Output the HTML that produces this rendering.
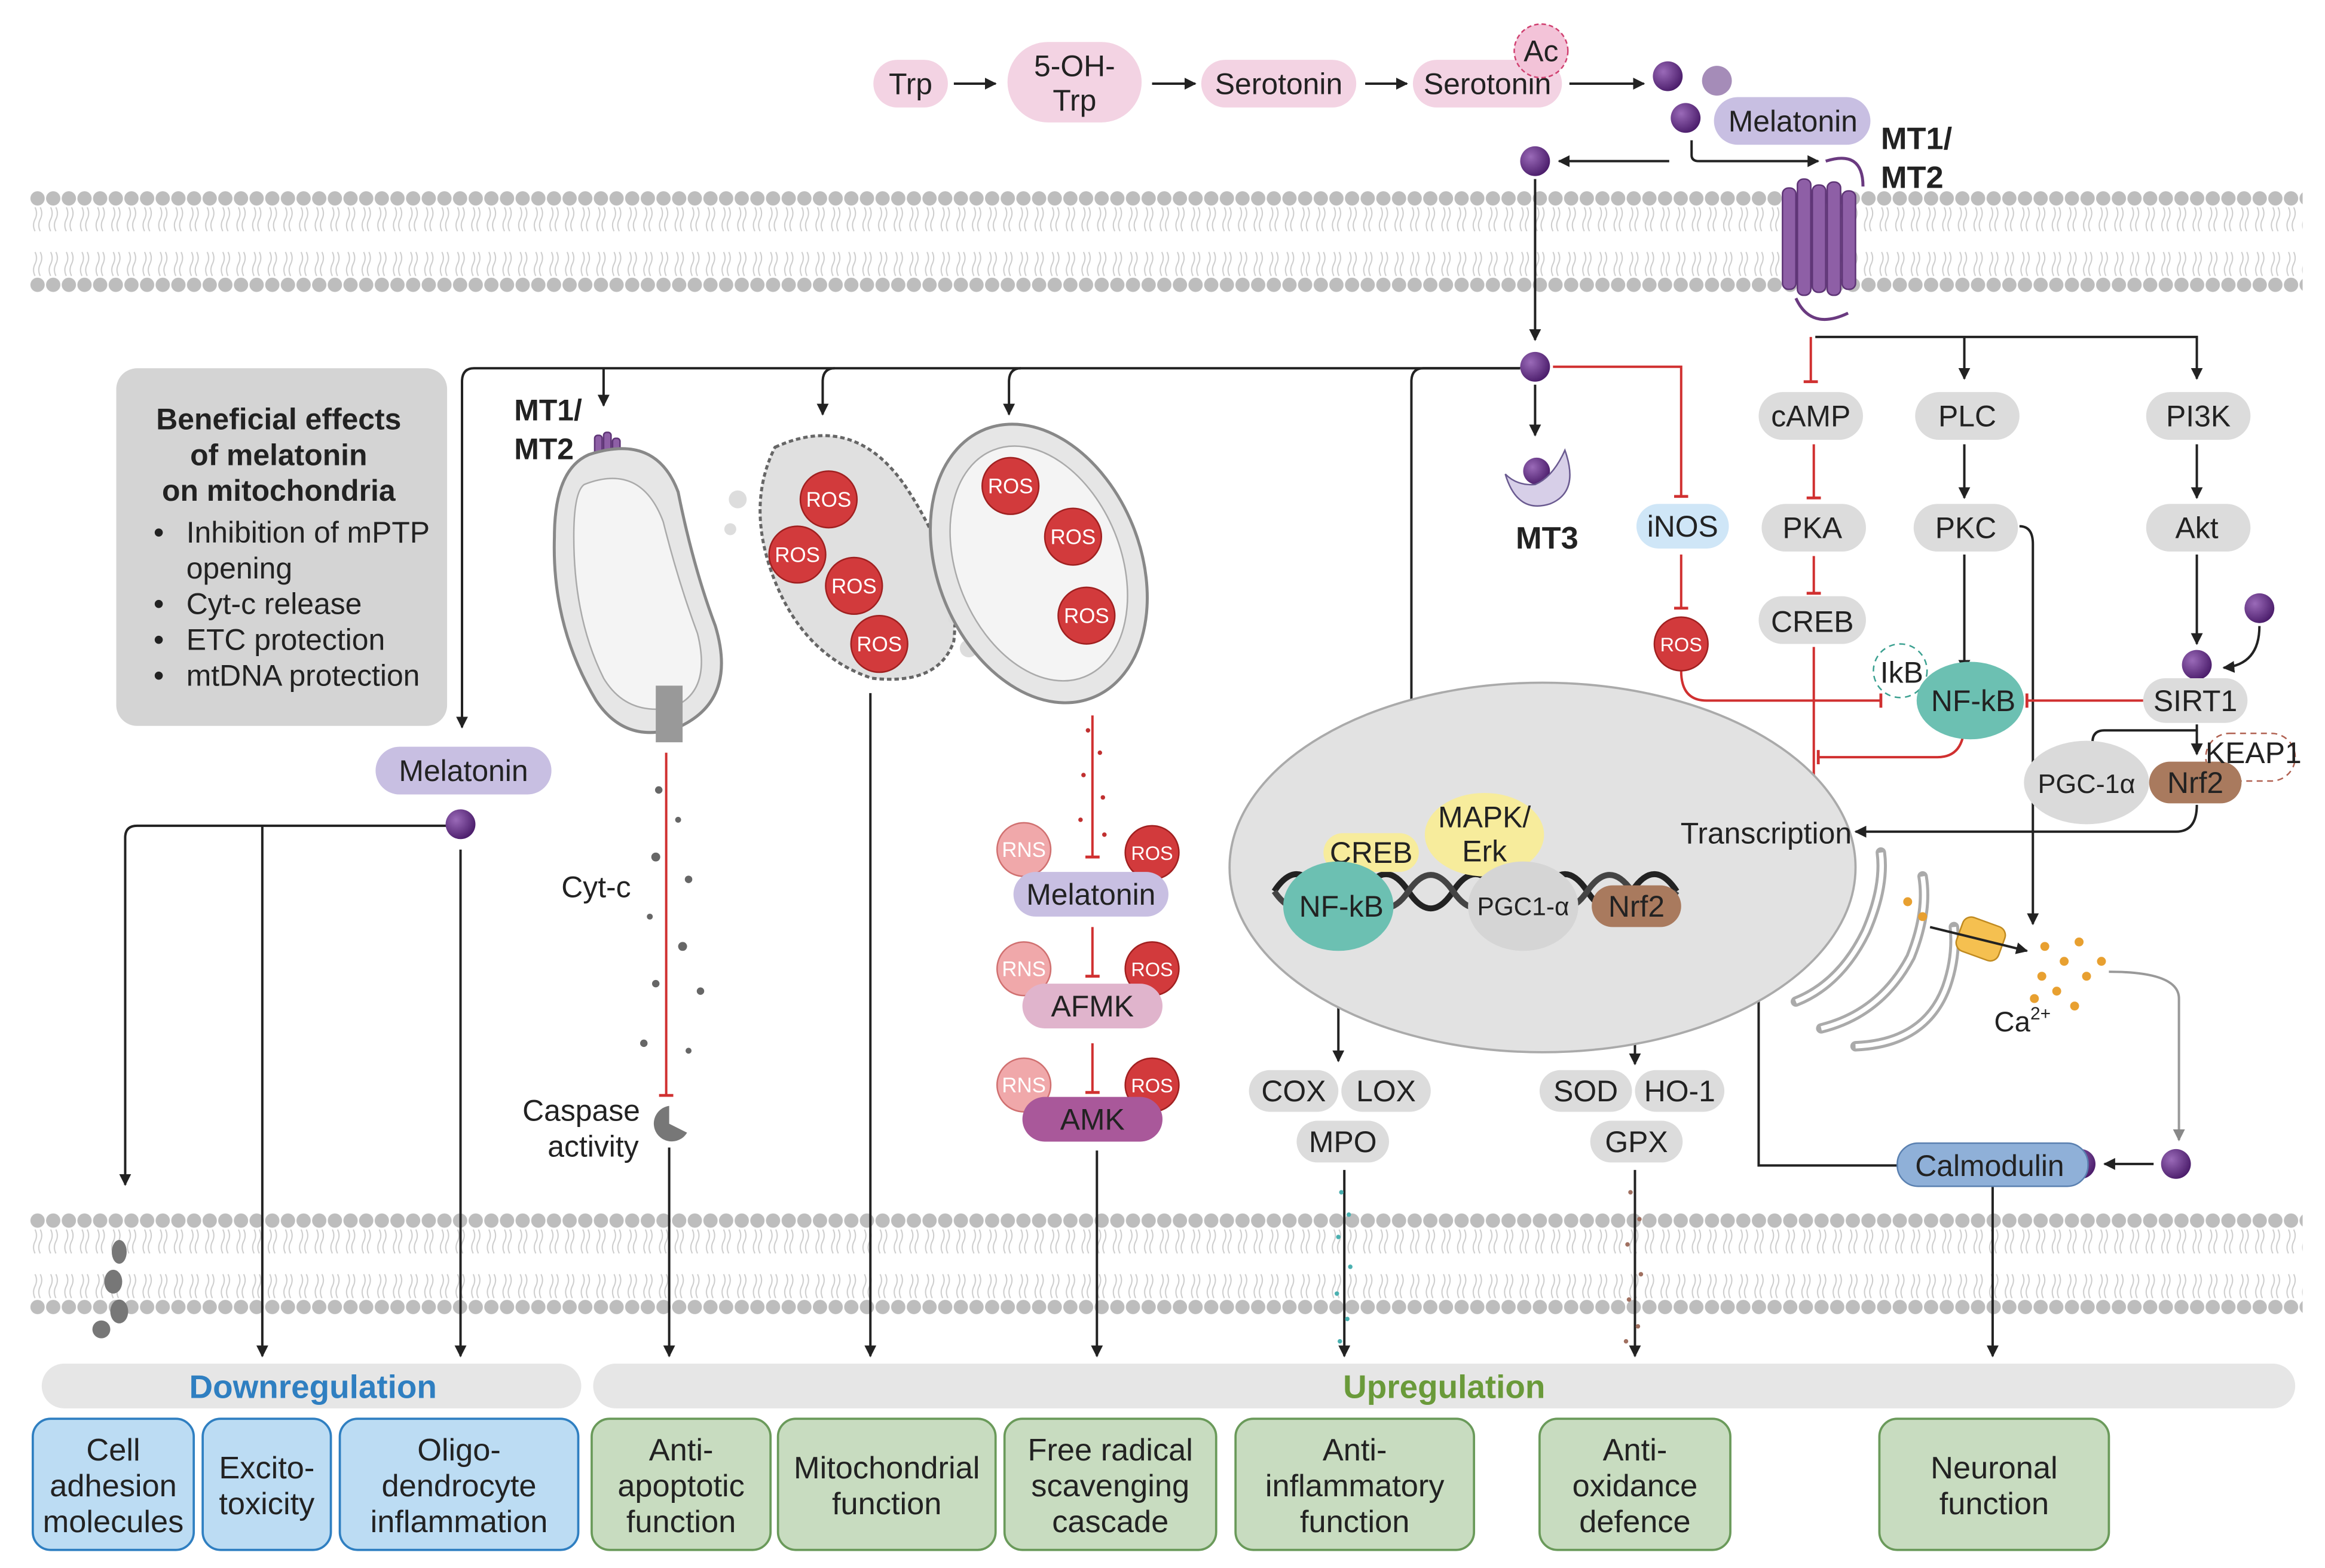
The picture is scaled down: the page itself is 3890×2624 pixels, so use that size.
<!DOCTYPE html>
<html><head><meta charset="utf-8">
<style>html,body{margin:0;padding:0;background:#fff}svg{display:block}
text{font-family:"Liberation Sans",sans-serif;fill:#222}</style></head>
<body>
<svg width="3890" height="2624" viewBox="0 0 1560 1052" xmlns="http://www.w3.org/2000/svg">
<defs>
<marker id="a" viewBox="0 0 10 10" refX="9" refY="5" markerWidth="5" markerHeight="5" orient="auto"><path d="M0,0L10,5L0,10z" fill="#222"/></marker>
<marker id="ag" viewBox="0 0 10 10" refX="9" refY="5" markerWidth="5" markerHeight="5" orient="auto"><path d="M0,0L10,5L0,10z" fill="#888"/></marker>
<marker id="t" viewBox="0 0 10 10" refX="5" refY="5" markerWidth="6" markerHeight="6" orient="auto"><path d="M5,0V10" stroke="#d03030" stroke-width="2"/></marker>
<pattern id="mem" x="20" y="126" width="10.5" height="72" patternUnits="userSpaceOnUse">
<path d="M3.5,13q2,4 0,8q-2,4 0,8M7,13q2,4 0,8q-2,4 0,8M3.5,43q2,4 0,8q-2,4 0,8M7,43q2,4 0,8q-2,4 0,8" stroke="#ccc" stroke-width="0.8" fill="none"/>
<circle cx="5.2" cy="7" r="4.8" fill="#bdbdbd"/><circle cx="5.2" cy="65" r="4.8" fill="#bdbdbd"/></pattern>
<pattern id="mem2" x="20" y="812" width="10.5" height="72" patternUnits="userSpaceOnUse">
<path d="M3.5,13q2,4 0,8q-2,4 0,8M7,13q2,4 0,8q-2,4 0,8M3.5,43q2,4 0,8q-2,4 0,8M7,43q2,4 0,8q-2,4 0,8" stroke="#ccc" stroke-width="0.8" fill="none"/>
<circle cx="5.2" cy="7" r="4.8" fill="#bdbdbd"/><circle cx="5.2" cy="65" r="4.8" fill="#bdbdbd"/></pattern>
<radialGradient id="dot" cx="0.35" cy="0.35" r="0.7"><stop offset="0" stop-color="#9a6ab8"/><stop offset="1" stop-color="#4a1c6a"/></radialGradient>
</defs>
<rect x="20" y="126" width="1525" height="72" fill="url(#mem)"/>
<rect x="20" y="812" width="1525" height="72" fill="url(#mem2)"/>

<!-- top pathway -->
<g font-size="20" text-anchor="middle">
<rect x="586" y="40" width="50" height="32" rx="16" fill="#f3d3e3"/><text x="611" y="63">Trp</text>
<rect x="676" y="28" width="90" height="54" rx="27" fill="#f3d3e3"/><text x="721" y="51">5-OH-</text><text x="721" y="74">Trp</text>
<rect x="806" y="40" width="104" height="32" rx="16" fill="#f3d3e3"/><text x="858" y="63">Serotonin</text>
<rect x="948" y="40" width="100" height="32" rx="16" fill="#f3d3e3"/><text x="998" y="63">Serotonin</text>
<circle cx="1034" cy="34" r="18" fill="#f3c3d8" stroke="#d04070" stroke-dasharray="3,2"/><text x="1034" y="41">Ac</text>
<rect x="1150" y="65" width="105" height="32" rx="16" fill="#c8bfe2"/><text x="1203" y="88">Melatonin</text>
</g>
<g stroke="#222" stroke-width="1.6" fill="none" marker-end="url(#a)">
<path d="M640,56H668"/><path d="M773,56H802"/><path d="M916,56H944"/><path d="M1053,56H1103"/>
<path d="M1120,108H1046"/><path d="M1135,94V104Q1135,108 1140,108H1220"/>
<path d="M1030,120V228"/><path d="M1030,258V292"/>
<path d="M1020,247H318Q310,247 310,256V488"/>
<path d="M405,247Q405,250 405,272"/><path d="M560,247Q552,247 552,256V278"/><path d="M685,247Q677,247 677,256V278"/>
<path d="M1020,247H955Q947,247 947,256V482"/>
<path d="M1218,226H1474V254"/><path d="M1318,226V254"/>
<path d="M1318,298V334"/><path d="M1318,372V450"/><path d="M1474,298V334"/><path d="M1474,372V432"/>
<path d="M1516,420Q1516,446 1492,448"/>
<path d="M1355,353Q1364,353 1364,365V620"/>
<path d="M1474,486V506"/><path d="M1474,490H1412Q1404,490 1404,498V508"/>
<path d="M1474,540Q1474,558 1460,558H1245"/>
<path d="M1090,572V560H1118"/>
<path d="M1273,782H1180V574"/>
<path d="M1445,781H1412"/>
<path d="M1337,796V910"/>
<path d="M449,770V910"/><path d="M584,465V910"/><path d="M736,772V910"/>
<path d="M300,554H92Q84,554 84,562V795"/><path d="M176,554V910"/><path d="M309,570V910"/>
<path d="M898,636V712"/><path d="M1097,624V714"/><path d="M902,785V910"/><path d="M1097,785V910"/>
</g>
<path d="M1415,652Q1462,652 1462,670V765" stroke="#999" stroke-width="1.6" fill="none" marker-end="url(#ag)"/>
<g stroke="#d03030" stroke-width="1.6" fill="none" marker-end="url(#t)">
<path d="M1042,246H1128V333"/><path d="M1128,372V408"/>
<path d="M1215,226V256"/><path d="M1217,298V334"/><path d="M1217,373V398"/><path d="M1217,434V540"/>
<path d="M1438,470H1360"/><path d="M1128,450Q1128,470 1145,470H1262"/>
<path d="M1318,485Q1318,508 1300,508H1220"/>
<path d="M447,505V735"/><path d="M733,480V575"/><path d="M733,622V655"/><path d="M733,700V733"/>
</g>

<!-- dots -->
<g fill="url(#dot)">
<circle cx="1119" cy="51" r="10"/><circle cx="1131" cy="79" r="10"/><circle cx="1030" cy="108" r="10"/>
<circle cx="1030" cy="246" r="10"/><circle cx="1474" cy="446" r="10"/><circle cx="1516" cy="408" r="10"/>
<circle cx="309" cy="553" r="10"/><circle cx="1396" cy="781" r="10"/><circle cx="1460" cy="781" r="10"/>
<circle cx="1031" cy="316" r="9"/><circle cx="945" cy="499" r="9"/>
</g>
<circle cx="1152" cy="54" r="10" fill="#a58cb8"/>

<!-- receptors -->
<g fill="#8e5fa6" stroke="#5e3476">
<rect x="1196" y="126" width="9" height="68" rx="4"/><rect x="1206" y="120" width="9" height="78" rx="4"/><rect x="1216" y="124" width="9" height="72" rx="4"/><rect x="1226" y="122" width="9" height="76" rx="4"/><rect x="1236" y="128" width="9" height="66" rx="4"/>
<rect x="399" y="292" width="5" height="36" rx="2"/><rect x="405" y="290" width="5" height="40" rx="2"/><rect x="411" y="294" width="5" height="34" rx="2"/>
</g>
<path d="M1225,108Q1250,100 1250,125M1205,200Q1215,222 1240,210" stroke="#6a3a80" stroke-width="2" fill="none"/>
<text x="1262" y="100" font-size="21" font-weight="bold">MT1/</text><text x="1262" y="126" font-size="21" font-weight="bold">MT2</text>
<path d="M1010,318Q1018,345 1040,338Q1060,330 1050,302Q1042,320 1030,325Q1018,326 1010,318z" fill="#d7cfe8" stroke="#6a5a90"/>
<text x="1038" y="368" font-size="21" font-weight="bold" text-anchor="middle">MT3</text>
<path d="M924,505Q930,530 950,526Q972,520 968,490Q962,512 948,514Q934,516 924,505z" fill="#d7cfe8" stroke="#6a5a90"/>
<text x="977" y="490" font-size="20" font-weight="bold">ROR/</text><text x="977" y="514" font-size="20" font-weight="bold">RZR</text>

<!-- right pills -->
<g font-size="20" text-anchor="middle">
<rect x="1180" y="263" width="70" height="32" rx="16" fill="#dcdcdc"/><text x="1215" y="286">cAMP</text>
<rect x="1285" y="263" width="70" height="32" rx="16" fill="#dcdcdc"/><text x="1320" y="286">PLC</text>
<rect x="1440" y="263" width="70" height="32" rx="16" fill="#dcdcdc"/><text x="1475" y="286">PI3K</text>
<rect x="1182" y="338" width="70" height="32" rx="16" fill="#dcdcdc"/><text x="1216" y="361">PKA</text>
<rect x="1284" y="338" width="70" height="32" rx="16" fill="#dcdcdc"/><text x="1319" y="361">PKC</text>
<rect x="1440" y="338" width="70" height="32" rx="16" fill="#dcdcdc"/><text x="1474" y="361">Akt</text>
<rect x="1180" y="400" width="72" height="32" rx="16" fill="#dcdcdc"/><text x="1216" y="424">CREB</text>
<rect x="1098" y="338" width="62" height="30" rx="15" fill="#cfe6f7"/><text x="1129" y="360">iNOS</text>
<rect x="1438" y="455" width="70" height="30" rx="15" fill="#dcdcdc"/><text x="1473" y="477">SIRT1</text>
<circle cx="1275" cy="450" r="18" fill="none" stroke="#3aa090" stroke-dasharray="4,3"/><text x="1276" y="458">IkB</text>
<ellipse cx="1322" cy="470" rx="36" ry="26" fill="#6cc0b2"/><text x="1324" y="477">NF-kB</text>
<ellipse cx="1400" cy="525" rx="42" ry="28" fill="#dadada"/><text x="1400" y="532" font-size="18">PGC-1α</text>
<rect x="1480" y="492" width="60" height="32" rx="16" fill="none" stroke="#b06050" stroke-dasharray="4,3"/>
<rect x="1442" y="511" width="62" height="28" rx="14" fill="#a97a5e"/><text x="1473" y="532">Nrf2</text>
<text x="1512" y="512">KEAP1</text>
<circle cx="1128" cy="432" r="18" fill="#d23a3c" stroke="#a02020"/><text x="1128" y="437" font-size="13" style="fill:#fff">ROS</text>
</g>

<!-- ER (behind nucleus) -->
<g stroke="#aaa" stroke-width="7" fill="none" stroke-linecap="round">
<path d="M1205,672Q1235,660 1252,625Q1265,595 1262,572"/>
<path d="M1222,690Q1262,680 1282,642Q1294,612 1290,588"/>
<path d="M1245,702Q1292,700 1306,662Q1313,642 1311,622"/>
</g>
<g stroke="#fff" stroke-width="3" fill="none"><path d="M1205,672Q1235,660 1252,625Q1265,595 1262,572"/><path d="M1222,690Q1262,680 1282,642Q1294,612 1290,588"/><path d="M1245,702Q1292,700 1306,662Q1313,642 1311,622"/></g>

<!-- nucleus -->
<ellipse cx="1035" cy="582" rx="210" ry="124" fill="#e2e2e2" stroke="#aaa" stroke-width="1.5"/>
<path d="M855,598Q870,575 885,598T915,598T945,598T975,598T1005,598T1035,598T1065,598T1095,598T1125,598" stroke="#222" stroke-width="4" fill="none"/>
<path d="M855,598Q870,620 885,598T915,598T945,598T975,598T1005,598T1035,598T1065,598T1095,598T1125,598" stroke="#444" stroke-width="4" fill="none"/>
<g font-size="20" text-anchor="middle">
<rect x="888" y="559" width="64" height="26" rx="13" fill="#f7ec9c"/><text x="920" y="579">CREB</text>
<ellipse cx="996" cy="560" rx="40" ry="28" fill="#f7ec9c"/><text x="996" y="555">MAPK/</text><text x="996" y="578">Erk</text>
<ellipse cx="898" cy="608" rx="37" ry="30" fill="#6cc0b2"/><text x="900" y="615">NF-kB</text>
<ellipse cx="1022" cy="608" rx="37" ry="30" fill="#d5d5d5"/><text x="1022" y="614" font-size="17">PGC1-α</text>
<rect x="1068" y="594" width="60" height="28" rx="14" fill="#a97a5e"/><text x="1098" y="615">Nrf2</text>
<text x="1185" y="566">Transcription</text>
<rect x="838" y="718" width="60" height="28" rx="14" fill="#dcdcdc"/><text x="868" y="739">COX</text>
<rect x="900" y="718" width="60" height="28" rx="14" fill="#dcdcdc"/><text x="930" y="739">LOX</text>
<rect x="870" y="752" width="62" height="28" rx="14" fill="#dcdcdc"/><text x="901" y="773">MPO</text>
<rect x="1033" y="718" width="62" height="28" rx="14" fill="#dcdcdc"/><text x="1064" y="739">SOD</text>
<rect x="1097" y="718" width="60" height="28" rx="14" fill="#dcdcdc"/><text x="1127" y="739">HO-1</text>
<rect x="1067" y="752" width="62" height="28" rx="14" fill="#dcdcdc"/><text x="1098" y="773">GPX</text>
<rect x="1273" y="767" width="128" height="29" rx="14" fill="#8fb0d8" stroke="#5a80b0"/><text x="1335" y="789">Calmodulin</text>
</g>
<g fill="#4ab0b0"><circle cx="900" cy="800" r="1.5"/><circle cx="905" cy="815" r="1.5"/><circle cx="898" cy="830" r="1.5"/><circle cx="906" cy="850" r="1.5"/><circle cx="897" cy="868" r="1.5"/><circle cx="904" cy="885" r="1.5"/><circle cx="899" cy="900" r="1.5"/></g>
<g fill="#a07060"><circle cx="1094" cy="800" r="1.5"/><circle cx="1100" cy="818" r="1.5"/><circle cx="1092" cy="835" r="1.5"/><circle cx="1101" cy="855" r="1.5"/><circle cx="1093" cy="872" r="1.5"/><circle cx="1099" cy="890" r="1.5"/><circle cx="1091" cy="900" r="1.5"/></g>

<rect x="1314" y="618" width="30" height="24" rx="6" fill="#f5c050" stroke="#c08a20" transform="rotate(20 1329 630)"/>
<path d="M1295,622L1360,638" stroke="#222" stroke-width="1.6" marker-end="url(#a)"/>
<g fill="#e8a030"><circle cx="1280" cy="605" r="3"/><circle cx="1290" cy="615" r="3"/><circle cx="1372" cy="635" r="3"/><circle cx="1385" cy="645" r="3"/><circle cx="1370" cy="655" r="3"/><circle cx="1395" cy="632" r="3"/><circle cx="1400" cy="655" r="3"/><circle cx="1380" cy="665" r="3"/><circle cx="1410" cy="645" r="3"/><circle cx="1392" cy="675" r="3"/><circle cx="1365" cy="670" r="3"/></g>
<text x="1338" y="692" font-size="19">Ca<tspan font-size="12" dy="-8">2+</tspan></text>

<!-- beneficial box -->
<rect x="78" y="247" width="222" height="240" rx="14" fill="#d4d4d4"/>
<g font-size="20"><g font-weight="bold" text-anchor="middle"><text x="187" y="288">Beneficial effects</text><text x="187" y="312">of melatonin</text><text x="187" y="336">on mitochondria</text></g>
<text x="103" y="364">•</text><text x="125" y="364">Inhibition of mPTP</text><text x="125" y="388">opening</text>
<text x="103" y="412">•</text><text x="125" y="412">Cyt-c release</text>
<text x="103" y="436">•</text><text x="125" y="436">ETC protection</text>
<text x="103" y="460">•</text><text x="125" y="460">mtDNA protection</text></g>

<!-- mito 1 -->
<path d="M395,305Q440,290 455,330Q465,380 480,420Q495,470 455,488Q420,500 400,470Q370,420 372,360Q372,315 395,305z" fill="#e6e6e6" stroke="#888" stroke-width="2"/>
<path d="M392,325Q430,310 445,350Q455,390 468,425Q478,465 450,475Q420,480 405,455Q385,415 385,360Q385,330 392,325z" fill="#f4f4f4" stroke="#aaa"/>
<rect x="440" y="460" width="18" height="38" fill="#999"/>
<text x="345" y="282" font-size="20" font-weight="bold">MT1/</text><text x="345" y="308" font-size="20" font-weight="bold">MT2</text>
<g fill="#666"><circle cx="442" cy="530" r="2.5"/><circle cx="455" cy="550" r="2"/><circle cx="440" cy="575" r="3"/><circle cx="462" cy="590" r="2.5"/><circle cx="436" cy="615" r="2"/><circle cx="458" cy="635" r="3"/><circle cx="440" cy="660" r="2.5"/><circle cx="470" cy="665" r="2.5"/><circle cx="432" cy="700" r="2.5"/><circle cx="462" cy="705" r="2"/></g>
<text x="400" y="602" font-size="20" text-anchor="middle">Cyt-c</text>
<path d="M449,742A12,12 0 1,0 461,760L449,754z" fill="#777"/>
<text x="390" y="752" font-size="20" text-anchor="middle">Caspase</text><text x="398" y="776" font-size="20" text-anchor="middle">activity</text>

<!-- mito 2 -->
<path d="M520,300Q575,275 610,330Q645,385 640,430Q630,460 585,455Q540,440 520,390Q500,340 520,300z" fill="#e0e0e0" stroke="#666" stroke-width="2" stroke-dasharray="3,2"/>
<g fill="#ddd"><circle cx="495" cy="335" r="6"/><circle cx="650" cy="435" r="6"/><circle cx="640" cy="415" r="4"/><circle cx="490" cy="355" r="4"/></g>
<!-- mito 3 -->
<ellipse cx="697" cy="378" rx="68" ry="97" fill="#e6e6e6" stroke="#888" stroke-width="2" transform="rotate(-22 697 378)"/>
<ellipse cx="697" cy="378" rx="55" ry="82" fill="#f4f4f4" stroke="#aaa" transform="rotate(-22 697 378)"/>
<g fill="#c03030"><circle cx="730" cy="490" r="1.5"/><circle cx="738" cy="505" r="1.5"/><circle cx="727" cy="520" r="1.5"/><circle cx="740" cy="535" r="1.5"/><circle cx="725" cy="550" r="1.5"/><circle cx="741" cy="560" r="1.5"/></g>
<g font-size="14" text-anchor="middle">
<g fill="#d23a3c" stroke="#a02020"><circle cx="556" cy="335" r="19"/><circle cx="535" cy="372" r="19"/><circle cx="573" cy="393" r="19"/><circle cx="590" cy="432" r="19"/><circle cx="678" cy="326" r="19"/><circle cx="720" cy="360" r="19"/><circle cx="729" cy="413" r="19"/><circle cx="773" cy="572" r="18"/><circle cx="773" cy="650" r="18"/><circle cx="773" cy="728" r="18"/></g>
<g fill="#f0a8aa" stroke="#d07070"><circle cx="687" cy="570" r="18"/><circle cx="687" cy="650" r="18"/><circle cx="687" cy="728" r="18"/></g>
<text x="556" y="340" style="fill:#fff">ROS</text><text x="535" y="377" style="fill:#fff">ROS</text><text x="573" y="398" style="fill:#fff">ROS</text><text x="590" y="437" style="fill:#fff">ROS</text><text x="678" y="331" style="fill:#fff">ROS</text><text x="720" y="365" style="fill:#fff">ROS</text><text x="729" y="418" style="fill:#fff">ROS</text>
<text x="687" y="575" style="fill:#fff">RNS</text><text x="687" y="655" style="fill:#fff">RNS</text><text x="687" y="733" style="fill:#fff">RNS</text>
</g>
<g font-size="20" text-anchor="middle">
<rect x="680" y="585" width="104" height="30" rx="15" fill="#c8bfe2"/><text x="732" y="607">Melatonin</text>
<rect x="686" y="660" width="94" height="30" rx="15" fill="#e0b4cc"/><text x="733" y="682">AFMK</text>
<rect x="686" y="736" width="94" height="30" rx="15" fill="#a9589a"/><text x="733" y="758">AMK</text>
</g>
<g font-size="13" text-anchor="middle"><text x="773" y="577" style="fill:#fff">ROS</text><text x="773" y="655" style="fill:#fff">ROS</text><text x="773" y="733" style="fill:#fff">ROS</text></g>
<rect x="252" y="501" width="118" height="32" rx="16" fill="#c8bfe2"/><text x="311" y="524" font-size="20" text-anchor="middle">Melatonin</text>
<g fill="#777"><ellipse cx="80" cy="840" rx="5" ry="8"/><ellipse cx="76" cy="860" rx="6" ry="8"/><ellipse cx="80" cy="880" rx="6" ry="8"/><ellipse cx="68" cy="892" rx="6" ry="6"/></g>

<!-- bottom -->
<rect x="28" y="915" width="362" height="30" rx="15" fill="#e6e6e6"/>
<rect x="398" y="915" width="1142" height="30" rx="15" fill="#e6e6e6"/>
<text x="210" y="938" font-size="22" font-weight="bold" text-anchor="middle" style="fill:#2f7fc1">Downregulation</text>
<text x="969" y="938" font-size="22" font-weight="bold" text-anchor="middle" style="fill:#6a9a3a">Upregulation</text>
<g fill="#bcdcf3" stroke="#2f7fc1" stroke-width="1.5">
<rect x="22" y="952" width="108" height="88" rx="12"/><rect x="136" y="952" width="86" height="88" rx="12"/><rect x="228" y="952" width="160" height="88" rx="12"/></g>
<g fill="#c8dcc0" stroke="#6a9a5a" stroke-width="1.5">
<rect x="397" y="952" width="120" height="88" rx="12"/><rect x="522" y="952" width="146" height="88" rx="12"/><rect x="674" y="952" width="142" height="88" rx="12"/><rect x="829" y="952" width="160" height="88" rx="12"/><rect x="1033" y="952" width="128" height="88" rx="12"/><rect x="1261" y="952" width="154" height="88" rx="12"/></g>
<g font-size="21" text-anchor="middle">
<text x="76" y="980">Cell</text><text x="76" y="1004">adhesion</text><text x="76" y="1028">molecules</text>
<text x="179" y="992">Excito-</text><text x="179" y="1016">toxicity</text>
<text x="308" y="980">Oligo-</text><text x="308" y="1004">dendrocyte</text><text x="308" y="1028">inflammation</text>
<text x="457" y="980">Anti-</text><text x="457" y="1004">apoptotic</text><text x="457" y="1028">function</text>
<text x="595" y="992">Mitochondrial</text><text x="595" y="1016">function</text>
<text x="745" y="980">Free radical</text><text x="745" y="1004">scavenging</text><text x="745" y="1028">cascade</text>
<text x="909" y="980">Anti-</text><text x="909" y="1004">inflammatory</text><text x="909" y="1028">function</text>
<text x="1097" y="980">Anti-</text><text x="1097" y="1004">oxidance</text><text x="1097" y="1028">defence</text>
<text x="1338" y="992">Neuronal</text><text x="1338" y="1016">function</text>
</g>
</svg>
</body></html>
